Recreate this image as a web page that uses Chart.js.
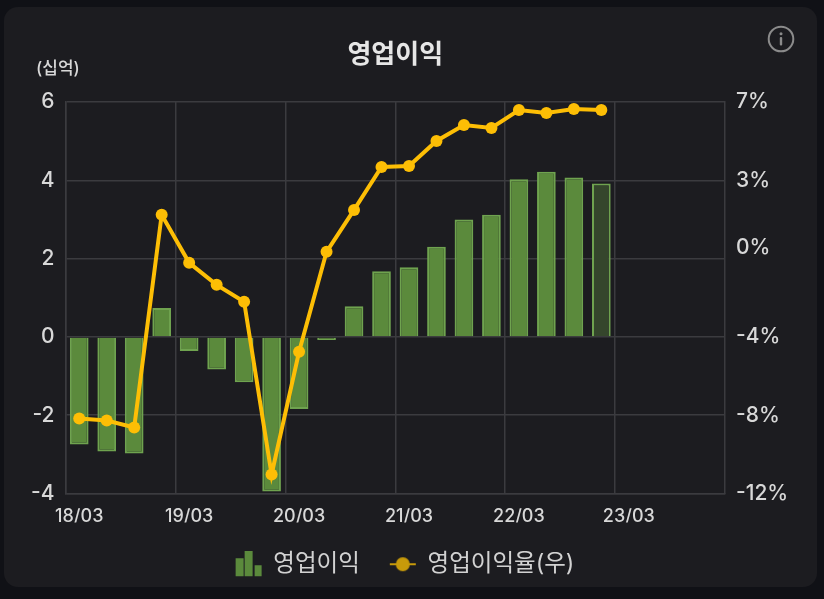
<!DOCTYPE html>
<html lang="ko">
<head>
<meta charset="utf-8">
<title>영업이익</title>
<script src="https://cdn.jsdelivr.net/npm/chart.js@4/dist/chart.umd.min.js"></script>
<style>
    html, body { margin: 0; padding: 0; width: 824px; height: 599px; overflow: hidden; background: #101116; }
    #card { position: absolute; left: 4px; top: 7px; width: 813px; height: 580px; border-radius: 14px; background: #1c1c20; }
    #chart { position: absolute; left: 0; top: 0; }
    #unit { position: absolute; left: 36px; top: 54px; font: 500 17px "Inter", "Noto Sans CJK KR", sans-serif; color: #d8d8d8; }
    #info { position: absolute; left: 767px; top: 25px; }
</style>
</head>
<body>
<div id="card"></div>
<canvas id="chart" width="810" height="599"></canvas>
<div id="unit">(십억)</div>
<svg id="info" width="28" height="28" viewBox="0 0 28 28">
    <circle cx="14" cy="14" r="12.3" fill="none" stroke="#8b8b8b" stroke-width="2"/>
    <circle cx="14" cy="8.8" r="1.5" fill="#8b8b8b"/>
    <rect x="12.8" y="12" width="2.4" height="8.5" rx="1" fill="#8b8b8b"/>
</svg>
<script>
/* 데이터 */
const quarters = ['18/03', '18/06', '18/09', '18/12', '19/03', '19/06', '19/09', '19/12',
                  '20/03', '20/06', '20/09', '20/12', '21/03', '21/06', '21/09', '21/12',
                  '22/03', '22/06', '22/09', '22/12', '23/03', '23/06', '23/09', '23/12'];
const profit = [-2.75, -2.93, -2.98, 0.74, -0.36, -0.83, -1.16, -3.95, -1.84, -0.08,
                0.78, 1.68, 1.78, 2.30, 3.00, 3.12, 4.03, 4.22, 4.07, 3.92];
const margin = [-7.96, -8.05, -8.38, 1.67, -0.60, -1.64, -2.44, -10.60, -4.80, -0.08,
                1.90, 3.93, 3.98, 5.16, 5.91, 5.77, 6.62, 6.48, 6.67, 6.62];
const marginTickValues = [-11.5, -7.8, -4.1, 0.1, 3.3, 7];
const marginTicks = ['-12%', '-8%', '-4%', '0%', '3%', '7%'];
const seriesNames = ['영업이익', '영업이익율(우)'];
const chartTitle = '영업이익';

const FONT = '"Inter", "Noto Sans CJK KR", sans-serif';
const GRID = '#3b3b3f';
const GREEN = '#5b8a3c';
const GREEN_EDGE = '#6fa34f';
const YELLOW = '#fdbe05';

/* 범례 아이콘 */
function barsIcon() {
    const c = document.createElement('canvas');
    c.width = 28; c.height = 26;
    const g = c.getContext('2d');
    g.fillStyle = GREEN;
    g.fillRect(1, 7, 8, 18);
    g.fillRect(10, 0, 8, 25);
    g.fillRect(20, 14, 7, 11);
    return c;
}
function lineIcon() {
    const c = document.createElement('canvas');
    c.width = 28; c.height = 18;
    const g = c.getContext('2d');
    g.fillStyle = '#c79a0a';
    g.fillRect(1, 8, 26, 2);
    g.beginPath();
    g.arc(14, 9, 7, 0, Math.PI * 2);
    g.fill();
    return c;
}

new Chart(document.getElementById('chart'), {
    data: {
        labels: quarters,
        datasets: [
            {
                type: 'line',
                label: seriesNames[1],
                data: margin,
                yAxisID: 'yRight',
                borderColor: YELLOW,
                backgroundColor: YELLOW,
                borderWidth: 4,
                pointRadius: 6,
                pointBackgroundColor: YELLOW,
                pointBorderWidth: 0,
                tension: 0,
                order: 1
            },
            {
                type: 'bar',
                label: seriesNames[0],
                data: profit,
                yAxisID: 'yLeft',
                // 마지막 분기는 어둡게 표시
                backgroundColor: (ctx) => ctx.dataIndex === profit.length - 1 ? '#35462c' : GREEN,
                borderColor: GREEN_EDGE,
                borderWidth: 2,
                categoryPercentage: 1,
                barPercentage: 0.68,
                order: 2
            }
        ]
    },
    options: {
        responsive: false,
        animation: false,
        layout: { padding: { left: 0, right: 0, top: 39.4, bottom: 13 } },
        plugins: {
            title: {
                display: true,
                text: chartTitle,
                fullSize: false,
                color: '#e6e6e6',
                font: { family: FONT, size: 26, weight: '700' },
                padding: { top: 0, bottom: 31.4 }
            },
            legend: {
                position: 'bottom',
                labels: {
                    color: '#d2d2d2',
                    font: { family: FONT, size: 23.5 },
                    usePointStyle: true,
                    pointStyleWidth: 26,
                    boxHeight: 21,
                    padding: 30,
                    generateLabels: () => [
                        { text: seriesNames[0], pointStyle: barsIcon(), fontColor: '#d2d2d2', lineWidth: 0, datasetIndex: 1 },
                        { text: seriesNames[1], pointStyle: lineIcon(), fontColor: '#d2d2d2', lineWidth: 0, datasetIndex: 0 }
                    ]
                }
            },
            tooltip: { enabled: false }
        },
        scales: {
            x: {
                offset: true,
                grid: {
                    offset: true,
                    drawTicks: false,
                    color: (ctx) => ctx.index % 4 === 0 ? GRID : 'rgba(0,0,0,0)',
                    lineWidth: 1.5
                },
                border: { color: GRID, width: 1.5 },
                ticks: {
                    autoSkip: false,
                    maxRotation: 0,
                    padding: 12,
                    color: '#d8d8d8',
                    font: { family: FONT, size: 18, weight: '500' },
                    callback: (value, index) => index % 4 === 0 ? quarters[index] : ''
                },
                afterFit: (scale) => { scale.height = 29; }
            },
            yLeft: {
                position: 'left',
                min: -4,
                max: 6,
                grid: { color: GRID, drawTicks: false, lineWidth: 1.5 },
                border: { color: GRID, width: 1.5 },
                ticks: {
                    stepSize: 2,
                    padding: 11,
                    color: '#d8d8d8',
                    font: { family: FONT, size: 21, weight: '500' },
                    callback: (value) => String(value)
                },
                afterFit: (scale) => { scale.width = 65.5; }
            },
            yRight: {
                position: 'right',
                min: -11.5,
                max: 7,
                grid: { display: false, drawTicks: false },
                border: { color: GRID, width: 1.5 },
                // 우측 눈금은 격자와 맞지 않는 위치에 있음
                afterBuildTicks: (scale) => { scale.ticks = marginTickValues.map((value) => ({ value })); },
                ticks: {
                    padding: 11,
                    color: '#d8d8d8',
                    font: { family: FONT, size: 21, weight: '500' },
                    callback: (value, index) => marginTicks[index]
                },
                afterFit: (scale) => { scale.width = 85; }
            }
        }
    }
});
</script>
</body>
</html>
